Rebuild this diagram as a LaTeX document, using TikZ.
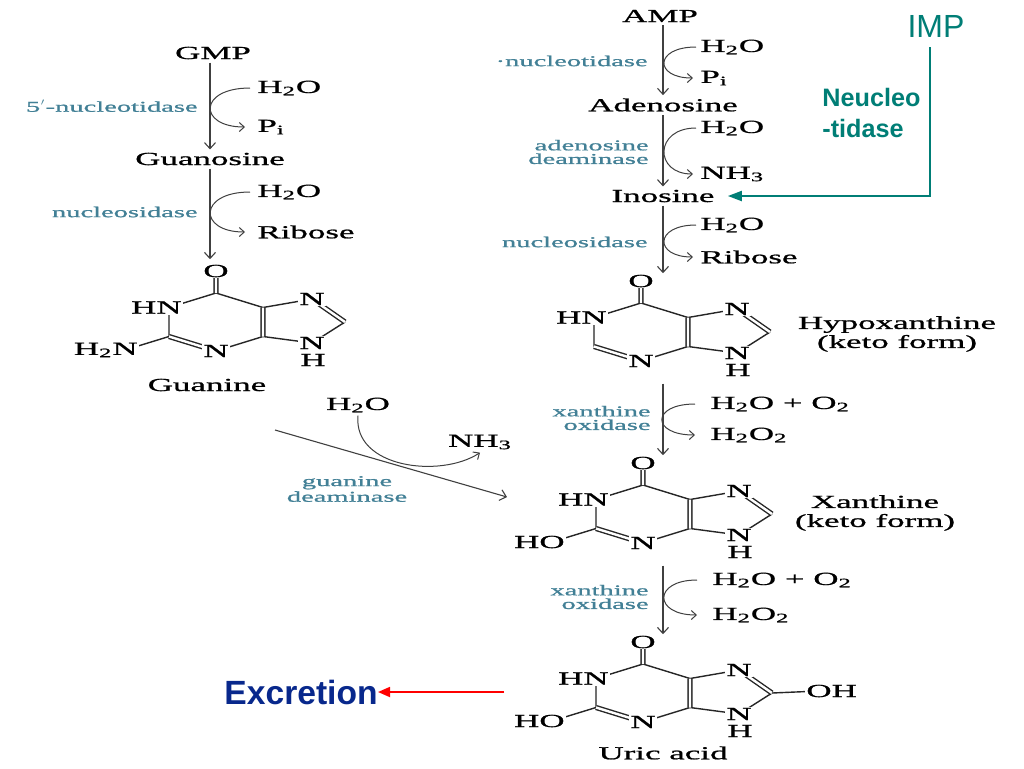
\documentclass[tikz,border=0pt]{standalone}
\usepackage{fontspec}
\setmainfont{Liberation Serif}[FakeStretch=1.9, FakeBold=1]
\newfontfamily\sansf{Liberation Sans}
\usetikzlibrary{arrows.meta,positioning}

\definecolor{enzcol}{RGB}{66,128,150}
\definecolor{impcol}{RGB}{0,126,118}
\definecolor{exccol}{RGB}{8,40,140}

\newcommand\spfont{\fontsize{9.2}{9.5}\selectfont}
\newcommand\enzfont{\fontsize{7.5}{6.8}\selectfont}

\tikzset{
  species/.style={font=\spfont, inner sep=1.5pt},
  enzyme/.style={font=\enzfont, text=enzcol, inner sep=1pt},
  atom/.style={font=\spfont, fill=white, inner sep=0.6pt},
  bond/.style={draw=black!85, line width=0.7pt},
  dbond/.style={bond, double, double distance=1.2pt},
  rxn/.style={draw=black!75, line width=0.55pt, -{Straight Barb[length=3pt,width=5.5pt]}},
  side/.style={draw=black!75, line width=0.5pt, -{Straight Barb[length=2.5pt,width=4.5pt]}},
  impline/.style={draw=impcol, line width=1pt, -{Triangle[length=7pt,width=5pt]}},
  excr/.style={draw=red, line width=0.9pt, -{Triangle[length=6pt,width=5pt]}},
  % purine skeleton, origin at the centre of the six-ring
  purine/.pic={
    \coordinate (-c6) at (0,-29);
    \coordinate (-c5) at (47,-14.5);
    \coordinate (-c4) at (47,14.5);
    \coordinate (-n3) at (0,29);
    \coordinate (-c2) at (-47,14.5);
    \coordinate (-n1) at (-47,-14.5);
    \coordinate (-n7) at (96,-23);
    \coordinate (-c8) at (129,0);
    \coordinate (-n9) at (96,21);
    \coordinate (-s2) at (-91,28);
    \coordinate (-s8) at (176,-2);
    \draw[bond] (-n1) -- (-c6) -- (-c5) -- (-n7) (-c8) -- (-n9) -- (-c4) -- (-n3)
      (-c2) -- (-n1);
    \draw[dbond] (-c6) -- (0,-51) (-c5) -- (-c4) (-n3) -- (-c2) (-n7) -- (-c8);
    \node[atom] (-o) at (0,-51) {O};
    \node[atom] (-hn) at (-n1) {\llap{H}N};
    \node[atom] (-nb) at (-n3) {N};
    \node[atom] (-nt) at (-n7) {N};
    \node[atom] (-nh) at (-n9) {N};
    \node[atom] (-h) at (97,38) {H};
  }
}

\begin{document}
\begin{tikzpicture}[x=0.5pt, y=-0.5pt]
  \fill[white] (0,0) rectangle (1024,768);
  \useasboundingbox (0,0) rectangle (1024,768);

  % GMP branch
  \node[species] (gmp) at (213,53) {GMP};
  \node[species] (guo) at (210,159) {Guanosine};
  \node[species, anchor=west] (gh2oa) at (254,88) {H\textsubscript{2}O};
  \node[species, anchor=west] (gpi) at (254,127) {P\textsubscript{i}};
  \node[enzyme, anchor=east] (g5nt) at (200,106) {5$'$-nucleotidase};
  \node[species, anchor=west] (gh2ob) at (254,192) {H\textsubscript{2}O};
  \node[species, anchor=west] (grib) at (254,232) {Ribose};
  \node[enzyme, anchor=east] (gns) at (200,212) {nucleosidase};

  \pic (gua) at (216,322) {purine};
  \draw[bond] (gua-c2) -- (gua-s2) node[atom] (gua-nh2) {\llap{H\textsubscript{2}}N};
  \node[species] (guanine) at (207,385) {Guanine};

  \draw[rxn] (guo |- gmp.south) -- (guo.north);
  \draw[rxn, shorten >=2pt] (guo.south) -- (guo |- gua-o.north);
  \draw[side, shorten <=2pt, shorten >=4.5pt] (gh2oa.west) .. controls +(-56,0) and +(-56,0) .. (gpi.west);
  \draw[side, shorten <=2pt, shorten >=4.5pt] (gh2ob.west) .. controls +(-56,0) and +(-56,0) .. (grib.west);

  % guanine deaminase
  \node[species] (gdh2o) at (358,405) {H\textsubscript{2}O};
  \node[species] (gdnh3) at (480,442) {NH\textsubscript{3}};
  \node[enzyme, align=center] (gd) at (347,489) {guanine\\deaminase};
  \coordinate (gdfrom) at (275,430);
  \coordinate (gdto) at (507,497);
  \draw[rxn] (gdfrom) -- (gdto);
  \draw[side] (gdh2o.south) .. controls +(-5,52) and +(-40,26) .. (gdnh3.south);

  % AMP branch
  \node[species] (amp) at (660,16) {AMP};
  \node[species] (ado) at (663,105) {Adenosine};
  \node[species] (ino) at (663,196) {Inosine};
  \node[species, anchor=west] (ah2oa) at (697,47) {H\textsubscript{2}O};
  \node[species, anchor=west] (api) at (697,78) {P\textsubscript{i}};
  \node[enzyme, anchor=east] (a5nt) at (650,61) {\textperiodcentered nucleotidase};
  \node[species, anchor=west] (ah2ob) at (697,128) {H\textsubscript{2}O};
  \node[species, anchor=west] (anh3) at (697,174) {NH\textsubscript{3}};
  \node[enzyme, anchor=east, align=right] (ada) at (651,152) {adenosine\\deaminase};
  \node[species, anchor=west] (ih2o) at (697,225) {H\textsubscript{2}O};
  \node[species, anchor=west] (irib) at (697,257) {Ribose};
  \node[enzyme, anchor=east] (ins) at (650,242) {nucleosidase};

  \draw[rxn] (ado |- amp.south) -- (ado.north);
  \draw[rxn] (ado.south) -- (ino.north);
  \draw[side, shorten <=0.5pt, shorten >=2pt] (ah2oa.west) .. controls +(-43,0) and +(-43,0) .. (api.west);
  \draw[side, shorten <=0.5pt, shorten >=2pt] (ah2ob.west) .. controls +(-43,0) and +(-43,0) .. (anh3.west);
  \draw[side, shorten <=0.5pt, shorten >=2pt] (ih2o.west) .. controls +(-43,0) and +(-43,0) .. (irib.west);

  % IMP
  \node[font=\sansf\fontsize{16}{18}\selectfont, text=impcol, inner sep=1pt] (imp) at (936,26) {IMP};
  \node[font=\sansf\bfseries\fontsize{12.6}{15.5}\selectfont, text=impcol, align=left,
    anchor=north west, inner sep=0pt] (ntd) at (822,88) {Neucleo\\-tidase};
  \draw[impline, shorten <=4pt, shorten >=5pt] ([xshift=-3pt]imp.south) |- (ino.east);

  % hypoxanthine, xanthine, uric acid
  \pic (hyp) at (641,332) {purine};
  \node[species, align=center] (hyplbl) at (897,334) {Hypoxanthine\\(keto form)};

  \pic (xan) at (643,514) {purine};
  \draw[bond] (xan-c2) -- (xan-s2) node[atom] (xan-oh2) {\llap{H}O};
  \node[species, align=center] (xanlbl) at (875,513) {Xanthine\\(keto form)};

  \pic (ura) at (643,693) {purine};
  \draw[bond] (ura-c2) -- (ura-s2) node[atom] (ura-oh2) {\llap{H}O};
  \draw[bond] (ura-c8) -- (ura-s8) node[atom] (ura-oh8) {O\rlap{H}};
  \node[species] (uralbl) at (663,753) {Uric acid};

  \draw[rxn] (ino.south) -- (ino |- hyp-o.north);
  \draw[rxn, shorten <=3pt] (ino |- hyp-h.south) -- (ino |- xan-o.north);
  \draw[rxn, shorten <=3pt] (ino |- xan-h.south) -- (ino |- ura-o.north);

  \node[species, anchor=west] (xo1in) at (707,404) {H\textsubscript{2}O + O\textsubscript{2}};
  \node[species, anchor=west] (xo1out) at (707,435) {H\textsubscript{2}O\textsubscript{2}};
  \node[enzyme, anchor=east, align=right] (xo1) at (653,418) {xanthine\\oxidase};
  \draw[side, shorten <=6pt, shorten >=6pt] (xo1in.west) .. controls +(-56,0) and +(-56,0) .. (xo1out.west);

  \node[species, anchor=west] (xo2in) at (709,580) {H\textsubscript{2}O + O\textsubscript{2}};
  \node[species, anchor=west] (xo2out) at (709,615) {H\textsubscript{2}O\textsubscript{2}};
  \node[enzyme, anchor=east, align=right] (xo2) at (651,597) {xanthine\\oxidase};
  \draw[side, shorten <=6pt, shorten >=6pt] (xo2in.west) .. controls +(-56,0) and +(-56,0) .. (xo2out.west);

  % excretion
  \node[font=\sansf\bfseries\fontsize{16.8}{18}\selectfont, text=exccol, anchor=east,
    inner sep=0pt] (exc) at (378,692) {Excretion};
  \coordinate (uaout) at (504,692);
  \draw[excr] (uaout) -- (exc.east);
\end{tikzpicture}
\end{document}
